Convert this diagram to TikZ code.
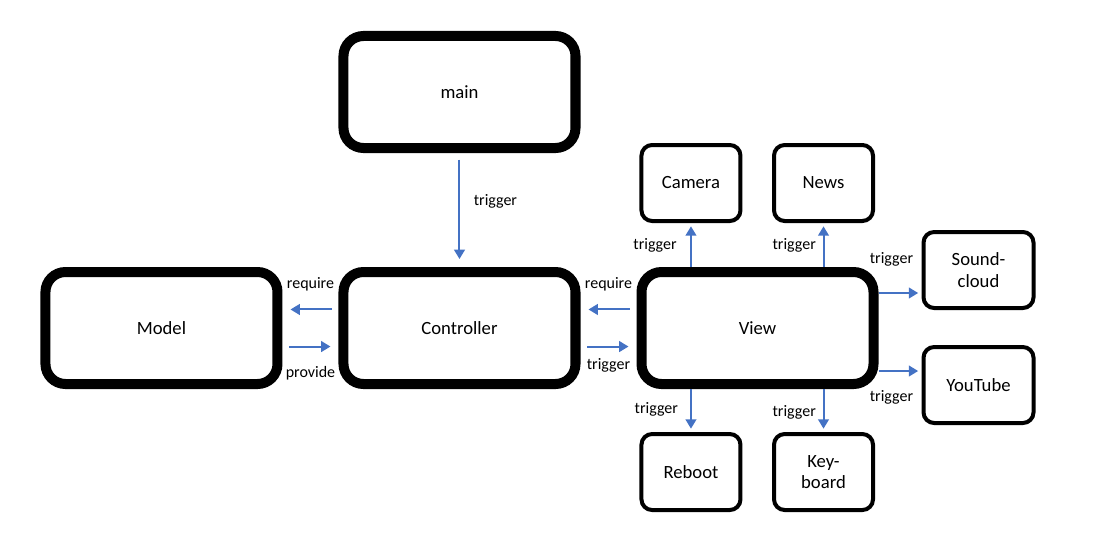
\documentclass[tikz,border=0pt]{standalone}
\usepackage{fontspec}
\setmainfont{Carlito}
\usetikzlibrary{positioning, arrows.meta}
\definecolor{linkblue}{HTML}{4472C4}
\tikzset{%
  block/.style={draw, line width=7.5pt, rounded corners=15pt, fill=white,
    minimum width=174pt, minimum height=84pt, inner sep=0pt,
    font=\fontsize{14}{17}\selectfont},
  leaf/.style={draw, line width=3pt, rounded corners=8pt, fill=white,
    minimum width=74.25pt, minimum height=57pt, inner sep=0pt, align=center,
    font=\fontsize{14}{16.3}\selectfont},
  move/.style={-{Triangle[width=8pt,length=7pt]}, line width=1.5pt, draw=linkblue,
    shorten <=5pt, shorten >=6pt},
  fan/.style={move, shorten <=0pt, shorten >=2.5pt},
  tag/.style={font=\fontsize{12}{14}\selectfont, inner sep=0pt}
}

\begin{document}
\begin{tikzpicture}
  \useasboundingbox (-344.6pt,-157.5pt) rectangle (481.1pt,246pt);

  \node[block] (ctrl) {Controller};
  \node[block,above=85.5pt of ctrl] (main) {main};
  \node[block,left=42pt of ctrl] (model) {Model};
  \node[block,right=42pt of ctrl] (view) {View};

  \node[leaf,above=33pt of view,xshift=-49.9pt] (cam) {Camera};
  \node[leaf,above=33pt of view,xshift=49.5pt] (news) {News};
  \node[leaf,below=32.25pt of view,xshift=-49.9pt] (reboot) {Reboot};
  \node[leaf,below=32.25pt of view,xshift=49.5pt] (keys) {Key-\\board};
  \node[leaf,minimum width=82.5pt,right=32.25pt of view,yshift=43.5pt] (sound) {Sound-\\cloud};
  \node[leaf,minimum width=82.5pt,right=32.25pt of view,yshift=-42.75pt] (yt) {YouTube};

  \draw[move] (main) -- node[tag,pos=0.42,right=10pt] (tmain) {trigger} (ctrl);

  \draw[move] ([yshift=13.9pt]ctrl.west) -- node[tag,midway,yshift=19pt] (rmodel) {require} ([yshift=13.9pt]model.east);
  \draw[move] ([yshift=-13.9pt]model.east) -- node[tag,midway,yshift=-20pt] (pmodel) {provide} ([yshift=-13.9pt]ctrl.west);
  \draw[move] ([yshift=13.9pt]view.west) -- node[tag,midway,yshift=19pt] (rview) {require} ([yshift=13.9pt]ctrl.east);
  \draw[move] ([yshift=-13.9pt]ctrl.east) -- node[tag,midway,yshift=-14pt] (tview) {trigger} ([yshift=-13.9pt]view.west);

  \draw[fan] (cam.south |- view.north) -- node[tag,midway,left=10pt] (tcam) {trigger} (cam.south);
  \draw[fan] (news.south |- view.north) -- node[tag,midway,left=5pt] (tnews) {trigger} (news.south);
  \draw[fan] (reboot.north |- view.south) -- node[tag,pos=0.48,left=9pt] (treboot) {trigger} (reboot.north);
  \draw[fan] (keys.north |- view.south) -- node[tag,pos=0.55,left=5pt] (tkeys) {trigger} (keys.north);
  \draw[fan] ([yshift=26.25pt]view.east) -- node[tag,midway,xshift=-6.4pt,yshift=25.5pt] (tsound) {trigger} ([yshift=26.25pt]view.east -| sound.west);
  \draw[fan] ([yshift=-32.25pt]view.east) -- node[tag,midway,xshift=-6.4pt,yshift=-20pt] (tyt) {trigger} ([yshift=-32.25pt]view.east -| yt.west);
\end{tikzpicture}
\end{document}
